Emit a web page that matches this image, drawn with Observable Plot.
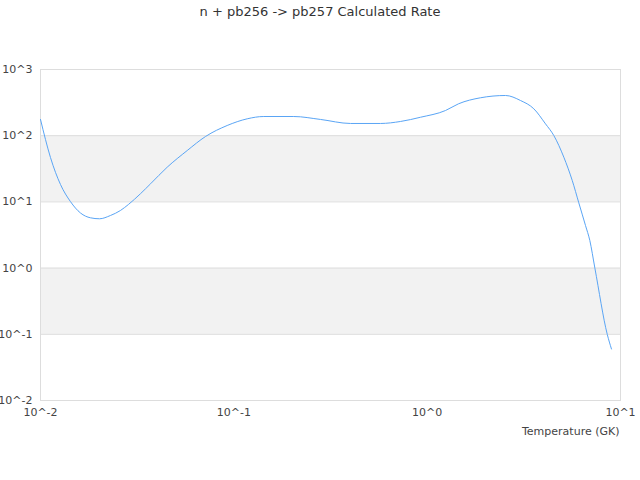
<!DOCTYPE html>
<html lang="en">
<head>
<meta charset="utf-8">
<title>n + pb256 -> pb257 Calculated Rate</title>
<script src="https://cdn.jsdelivr.net/npm/d3@7"></script>
<script src="https://cdn.jsdelivr.net/npm/@observablehq/plot@0.6"></script>
<style>
  body {
    margin: 0;
    width: 640px;
    background: #fff;
  }
  #title {
    font-family: 'DejaVu Sans', sans-serif;
    font-size: 13px;
    color: #333;
    text-align: center;
    height: 24px;
    line-height: 24px;
  }
</style>
</head>
<body>
<div id="title">n + pb256 -> pb257 Calculated Rate</div>
<div id="graphic"></div>

<script>
  // temperature (GK) and rate
  var temps = [0.01, 0.01126, 0.01269, 0.01429, 0.0161, 0.01814, 0.02019, 0.023, 0.0259, 0.0285,
    0.0329, 0.0371, 0.0452, 0.0574, 0.0714, 0.0924, 0.1173, 0.1429, 0.2042, 0.2807,
    0.4014, 0.5735, 0.728, 0.924, 1.244, 1.452, 1.888, 2.542, 3.04, 3.562,
    4.094, 4.519, 5.092, 5.627, 6.085, 6.592, 6.94, 7.37, 8.54, 8.98];
  var rates = [176, 46.9, 18.3, 10.1, 6.8, 5.75, 5.56, 6.23, 7.41, 9.14,
    13.3, 18.8, 33.4, 59.7, 97.3, 142.6, 180, 195, 195, 176,
    153, 153, 164, 190, 240, 303, 374, 405, 340, 255,
    151, 100.7, 47.3, 21.1, 9.69, 4.4, 2.61, 1.0, 0.1, 0.06];

  var xTicks = [0.01, 0.1, 1, 10];
  var yTicks = [0.01, 0.1, 1, 10, 100, 1000];
  var bandLow = [0.1, 10];
  var bandHigh = [1, 100];
  var xLabel = "Temperature (GK)";

  var data = temps.map((t, i) => ({t: t, rate: rates[i]}));
  var bands = bandLow.map((lo, i) => ({lo: lo, hi: bandHigh[i]}));
  var pow = d => "10^" + Math.round(Math.log10(d));

  var chart = Plot.plot({
    width: 640,
    height: 456,
    marginTop: 45,
    marginBottom: 80,
    marginLeft: 40,
    marginRight: 20,
    style: {fontFamily: "'DejaVu Sans', sans-serif", fontSize: "11px", color: "#444", background: "#fff"},
    x: {type: "log", domain: [xTicks[0], xTicks[xTicks.length - 1]], ticks: xTicks, tickFormat: pow, tickSize: 0, tickPadding: 8, label: null},
    y: {type: "log", domain: [yTicks[0], yTicks[yTicks.length - 1]], ticks: yTicks, tickFormat: pow, tickSize: 0, tickPadding: 8, label: null},
    marks: [
      Plot.rect(bands, {x1: xTicks[0], x2: xTicks[xTicks.length - 1], y1: "lo", y2: "hi", fill: "#f2f2f2"}),
      Plot.ruleY(yTicks, {stroke: "#dddddd"}),
      Plot.frame({stroke: "#dddddd"}),
      Plot.line(data, {x: "t", y: "rate", stroke: "#5aa5f5", strokeWidth: 1, curve: "monotone-x"}),
      Plot.text([xLabel], {frameAnchor: "bottom-right", dy: 34, dx: -1, textAnchor: "end", fill: "#444", fontSize: 11})
    ]
  });
  document.getElementById("graphic").appendChild(chart);
</script>
</body>
</html>
